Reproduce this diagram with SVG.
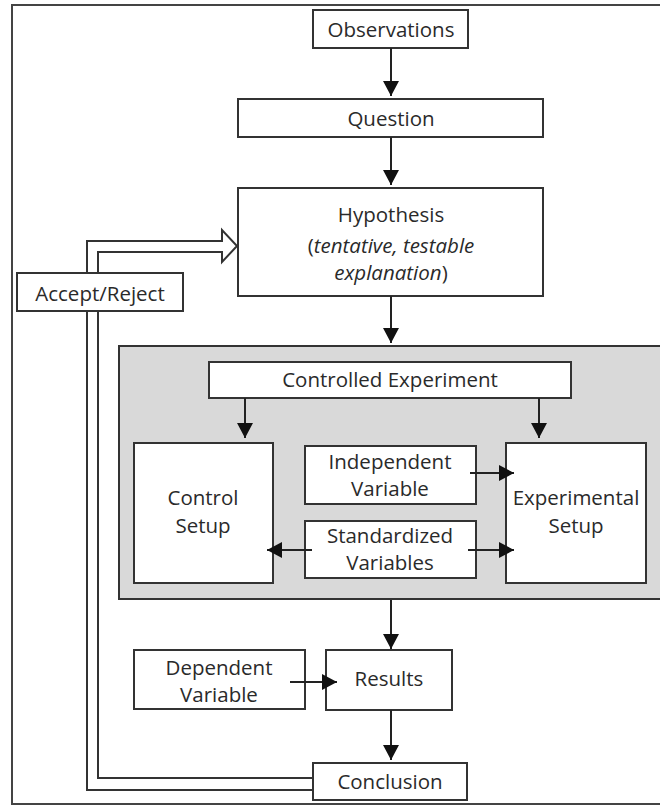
<svg xmlns="http://www.w3.org/2000/svg" width="660" height="809" viewBox="0 0 660 809">
<defs>
<marker id="ah" markerUnits="userSpaceOnUse" markerWidth="16" markerHeight="16" refX="15" refY="8" orient="auto">
<path d="M0,0 L15,8 L0,16 z" fill="#111"/>
</marker>
<style>
.box{fill:#fff;stroke:#333;stroke-width:2}
.t{font-family:"Open Sans","Liberation Sans",sans-serif;font-size:20.5px;fill:#2a2a2a;text-anchor:middle;dominant-baseline:central}
.c{fill:none;stroke:#222;stroke-width:2;marker-end:url(#ah)}
</style>
</defs>
<rect width="660" height="809" fill="#fff"/>
<rect x="12" y="5" width="660" height="799" fill="none" stroke="#444" stroke-width="2"/>
<g id="experiment-area">
<rect x="119" y="346" width="560" height="253" fill="#d9d9d9" stroke="#333" stroke-width="2"/>
</g>
<g id="observations"><rect class="box" x="313" y="10" width="155" height="38"/><text class="t" x="391" y="29">Observations</text></g>
<g id="question"><rect class="box" x="238" y="99" width="305" height="38"/><text class="t" x="391" y="118">Question</text></g>
<g id="hypothesis"><rect class="box" x="238" y="188" width="305" height="108"/>
<text class="t" x="391" y="214">Hypothesis</text>
<text class="t" x="391" y="245">(<tspan font-style="italic">tentative, testable</tspan></text>
<text class="t" x="391" y="272"><tspan font-style="italic">explanation</tspan>)</text></g>
<g id="controlled-experiment"><rect class="box" x="209" y="362" width="362" height="36"/><text class="t" x="390" y="379">Controlled Experiment</text></g>
<g id="control-setup"><rect class="box" x="134" y="443" width="139" height="140"/><text class="t" x="203" y="497">Control</text><text class="t" x="203" y="525">Setup</text></g>
<g id="experimental-setup"><rect class="box" x="506" y="443" width="140" height="140"/><text class="t" x="576" y="497">Experimental</text><text class="t" x="576" y="525">Setup</text></g>
<g id="independent-variable"><rect class="box" x="305" y="446" width="171" height="58"/><text class="t" x="390" y="461">Independent</text><text class="t" x="390" y="488">Variable</text></g>
<g id="standardized-variables"><rect class="box" x="305" y="521" width="171" height="57"/><text class="t" x="390" y="535">Standardized</text><text class="t" x="390" y="562">Variables</text></g>
<g id="dependent-variable"><rect class="box" x="134" y="650" width="171" height="59"/><text class="t" x="219" y="667">Dependent</text><text class="t" x="219" y="694">Variable</text></g>
<g id="results"><rect class="box" x="326" y="650" width="126" height="60"/><text class="t" x="389" y="678">Results</text></g>
<g id="conclusion"><rect class="box" x="313" y="763" width="154" height="37"/><text class="t" x="390" y="781">Conclusion</text></g>
<g id="connectors">
<path d="M313,790 L87,790 L87,241 L222,241 L222,230 L237,246 L222,262 L222,252 L98,252 L98,778 L313,778" fill="none" stroke="#333" stroke-width="2" stroke-linejoin="miter"/>
<line class="c" x1="391" y1="48" x2="391" y2="96"/>
<line class="c" x1="391" y1="137" x2="391" y2="185"/>
<line class="c" x1="391" y1="296" x2="391" y2="343"/>
<line class="c" x1="245" y1="398" x2="245" y2="438"/>
<line class="c" x1="539" y1="398" x2="539" y2="438"/>
<line class="c" x1="470" y1="473" x2="514" y2="473"/>
<line class="c" x1="312" y1="550" x2="267" y2="550"/>
<line class="c" x1="468" y1="550" x2="514" y2="550"/>
<line class="c" x1="391" y1="600" x2="391" y2="649"/>
<line class="c" x1="290" y1="682" x2="337" y2="682"/>
<line class="c" x1="391" y1="710" x2="391" y2="760"/>
</g>
<g id="accept-reject"><rect class="box" x="17" y="273" width="166" height="38"/><text class="t" x="100" y="293">Accept/Reject</text></g>
</svg>
